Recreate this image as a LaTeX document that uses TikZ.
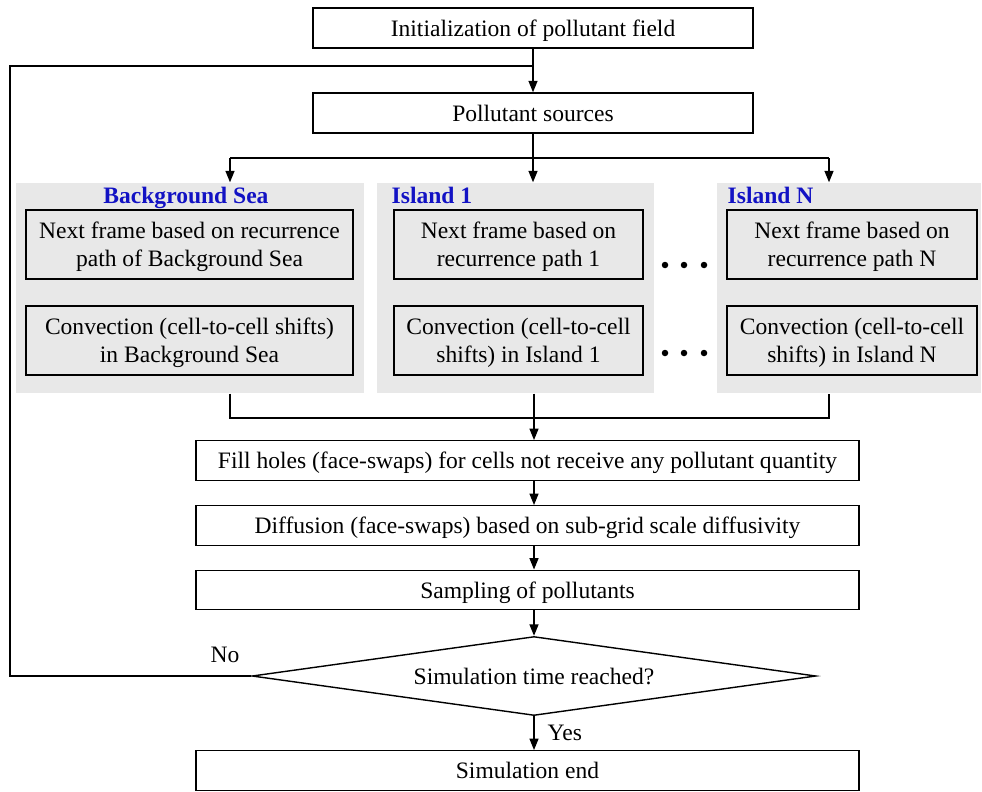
\documentclass[tikz,border=0pt]{standalone}
\usepackage{fontspec}
\setmainfont{Liberation Serif}
\usetikzlibrary{shapes.geometric,arrows.meta}
\definecolor{panelgray}{HTML}{E8E8E8}
\definecolor{titleblue}{HTML}{1212C4}

\begin{document}
\begin{tikzpicture}[x=0.02cm,y=-0.02cm,line width=0.8pt]
		\tikzset{txt/.style = {font=\fontsize{13.4}{16}\selectfont}}
		\tikzset{box/.style = {draw, align=center, inner sep=0pt, text depth=0pt, txt}}
		\tikzset{topbox/.style = {box, minimum width=8.8cm, minimum height=0.8cm}}
		\tikzset{widebox/.style = {box, minimum width=13.26cm, minimum height=0.79cm}}
		\tikzset{panel/.style = {fill=panelgray, inner sep=0pt, minimum height=4.2cm}}
		\tikzset{title/.style = {text=titleblue, font=\fontsize{13.4}{16}\selectfont\bfseries, inner sep=0pt, text depth=0pt}}
		\tikzset{arr/.style = {-{Triangle[length=0.23cm,width=0.18cm]}}}
		\useasboundingbox (0,0) rectangle (982,791);
		
		% top of the chart
		\node[topbox] (init) at (533,28) {Initialization of pollutant field};
		\node[topbox] (src) at (533,113) {Pollutant sources};
		
		% grey panels, one per region
		\node[panel, minimum width=6.96cm] (pBG) at (190,288) {};
		\node[panel, minimum width=5.54cm] (pI1) at (515.5,288) {};
		\node[panel, minimum width=5.28cm] (pIN) at (849,288) {};
		\node[title] (tBG) at (186,195) {Background Sea};
		\node[title, anchor=west] (tI1) at (391,195) {Island 1};
		\node[title, anchor=west] (tIN) at (727,195) {Island N};
		
		% boxes inside the panels
		\node[box, minimum width=6.54cm, minimum height=1.38cm] (nBG) at (189.5,244.5) {Next frame based on recurrence\\path of Background Sea};
		\node[box, minimum width=6.54cm, minimum height=1.38cm] (cBG) at (189.5,340.5) {Convection (cell-to-cell shifts)\\in Background Sea};
		\node[box, minimum width=4.98cm, minimum height=1.38cm] (nI1) at (518.5,244.5) {Next frame based on\\recurrence path 1};
		\node[box, minimum width=4.98cm, minimum height=1.38cm] (cI1) at (518.5,340.5) {Convection (cell-to-cell\\shifts) in Island 1};
		\node[box, minimum width=5.0cm, minimum height=1.38cm] (nIN) at (852,244.5) {Next frame based on\\recurrence path N};
		\node[box, minimum width=5.0cm, minimum height=1.38cm] (cIN) at (852,340.5) {Convection (cell-to-cell\\shifts) in Island N};
		\foreach \y in {265,353}
			\foreach \x in {665,684,704}
				\fill (\x,\y) circle (0.065cm);
		
		% lower part of the chart
		\node[widebox] (fill) at (527.5,460.5) {Fill holes (face-swaps) for cells not receive any pollutant quantity};
		\node[widebox] (diff) at (527.5,525.5) {Diffusion (face-swaps) based on sub-grid scale diffusivity};
		\node[widebox] (samp) at (527.5,590) {Sampling of pollutants};
		\node[draw, diamond, shape aspect=7.1, inner sep=0pt, minimum width=11.28cm, minimum height=1.58cm, text depth=0pt, txt] (dec) at (534,676) {Simulation time reached?};
		\node[widebox] (send) at (527.5,770.5) {Simulation end};
		
		% helper points
		\coordinate (spine) at (534,0);
		\coordinate (brL) at (230,158);
		\coordinate (brR) at (829,158);
		\coordinate (mgL) at (230,418);
		\coordinate (mgR) at (829,418);
		\coordinate (loopL) at (10,66);
		
		% connectors
		\draw[arr] (init) -- (src);
		\draw (dec.west) -| (loopL) -- (loopL -| init.south);
		\draw[arr] (src.south) -- (src.south |- pI1.north);
		\draw (brL) -- (brR);
		\draw[arr] (brL) -- (brL |- pBG.north);
		\draw[arr] (brR) -- (brR |- pIN.north);
		\draw (mgL |- pBG.south) -- (mgL) -- (mgR) -- (mgR |- pIN.south);
		\draw[arr] (spine |- pI1.south) -- (spine |- fill.north);
		\draw[arr] (spine |- fill.south) -- (spine |- diff.north);
		\draw[arr] (spine |- diff.south) -- (spine |- samp.north);
		\draw[arr] (spine |- samp.south) -- (dec.north);
		\draw[arr] (dec.south) -- node[right, txt, inner sep=0pt, xshift=0.26cm]{Yes} (dec.south |- send.north);
		\node[txt] (no) at (225,655) {No};
		\end{tikzpicture}
\end{document}
